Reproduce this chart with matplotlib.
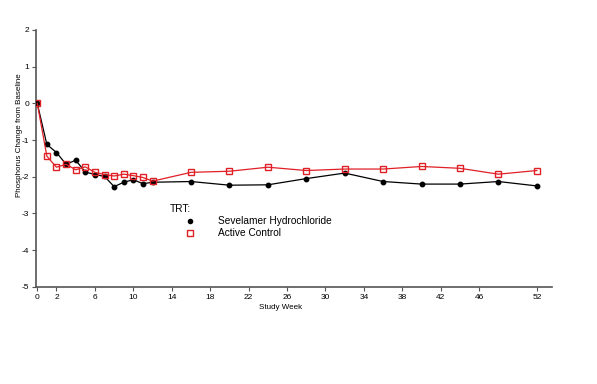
import matplotlib
matplotlib.use("Agg")
import matplotlib.pyplot as plt
from matplotlib.lines import Line2D

weeks = [0, 1, 2, 3, 4, 5, 6, 7, 8, 9, 10, 11, 12, 16, 20, 24, 28, 32, 36, 40, 44, 48, 52]
sevelamer = [0.0, -1.12, -1.34, -1.66, -1.55, -1.87, -1.94, -1.99, -2.27, -2.15, -2.08, -2.19, -2.15,
             -2.13, -2.23, -2.22, -2.05, -1.90, -2.13, -2.20, -2.20, -2.13, -2.25]
active = [0.0, -1.44, -1.74, -1.66, -1.81, -1.73, -1.88, -1.94, -1.98, -1.93, -1.97, -2.02, -2.12,
          -1.88, -1.85, -1.74, -1.83, -1.79, -1.79, -1.72, -1.77, -1.93, -1.83]
xticks = [0, 2, 6, 10, 14, 18, 22, 26, 30, 34, 38, 42, 46, 52]
yticks = [-5, -4, -3, -2, -1, 0, 1, 2]

plt.rcParams['font.family'] = ['Liberation Sans', 'DejaVu Sans']
fig = plt.figure(figsize=(5.97, 3.84), dpi=100)
ax = fig.add_axes([0.06, 0.253, 0.865, 0.669])

red = '#e01f26'
ax.plot(weeks, sevelamer, color='black', lw=0.9, marker='o', ms=3.2, mfc='black', mec='black',
        zorder=3)
ax.plot(weeks, active, color=red, lw=0.9, marker='s', ms=5, mfc='none', mec=red, mew=1.0,
        zorder=4)

ax.set_xlim(-0.15, 53.6)
ax.set_ylim(-5, 2)
ax.set_xticks(xticks)
ax.set_xticklabels([str(t) for t in xticks])
ax.set_yticks(yticks)
ax.set_yticklabels([str(t) for t in yticks])
for s in ['top', 'right']:
    ax.spines[s].set_visible(False)
for s in ['left', 'bottom']:
    ax.spines[s].set_color('#555555')
    ax.spines[s].set_linewidth(1.2)
ax.tick_params(axis='both', labelsize=6, length=3, width=0.8, color='#555555', pad=2)

ax.set_xlabel('Study Week', fontsize=5.8)
ax.xaxis.set_label_coords(0.473, -0.068)
ax.set_ylabel('Phosphorus Change from Baseline', fontsize=5.8)
ax.yaxis.set_label_coords(-0.025, 0.59)

handles = [Line2D([], [], color='black', marker='o', ms=3, ls='none'),
           Line2D([], [], color=red, marker='s', ms=4.5, mfc='none', mec=red, ls='none')]
leg = ax.legend(handles, ['Sevelamer Hydrochloride', 'Active Control'], title='TRT:',
                loc='upper left', bbox_to_anchor=(0.26, 0.322), frameon=False,
                fontsize=7.3, title_fontsize=7.3, handlelength=3.9, handletextpad=0.85,
                labelspacing=0.2, borderpad=0, borderaxespad=0)
leg._legend_box.align = 'left'

fig.savefig('out.png', dpi=100)
